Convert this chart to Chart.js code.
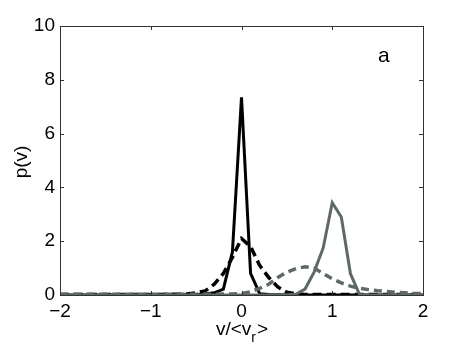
<!DOCTYPE html>
<html>
<head>
<meta charset="utf-8">
<script src="https://cdn.jsdelivr.net/npm/chart.js@4/dist/chart.umd.min.js"></script>
<style>
  html, body { margin: 0; padding: 0; background: #fff; }
  #chart { display: block; }
</style>
</head>
<body>
<canvas id="chart" width="467" height="352"></canvas>
<script>
// bin centres, v/<v_r>
const vBins = [
  -2.0, -1.9, -1.8, -1.7, -1.6, -1.5, -1.4, -1.3, -1.2, -1.1,
  -1.0, -0.9, -0.8, -0.7, -0.6, -0.5, -0.4, -0.3, -0.2, -0.1,
  0.0, 0.1, 0.2, 0.3, 0.4, 0.5, 0.6, 0.7, 0.8, 0.9,
  1.0, 1.1, 1.2, 1.3, 1.4, 1.5, 1.6, 1.7, 1.8, 1.9, 2.0,
];

const blackSolid = [
  0, 0, 0, 0, 0, 0, 0, 0, 0, 0,
  0, 0, 0, 0, 0.01, 0.02, 0.04, 0.08, 0.22, 1.6,
  7.35, 0.8, 0.05, 0.02, 0.01, 0, 0, 0, 0, 0,
  0, 0, 0, 0, 0, 0, 0, 0, 0, 0, 0,
];

const blackDashed = [
  0.02, 0.02, 0.02, 0.02, 0.02, 0.02, 0.02, 0.02, 0.02, 0.02,
  0.02, 0.02, 0.03, 0.03, 0.04, 0.08, 0.15, 0.4, 0.8, 1.4,
  2.1, 1.8, 1.1, 0.65, 0.3, 0.1, 0.04, 0.02, 0.02, 0.02,
  0.02, 0.02, 0.02, 0.02, 0.02, 0.02, 0.02, 0.02, 0.02, 0.02, 0.02,
];

const greySolid = [
  0, 0, 0, 0, 0, 0, 0, 0, 0, 0,
  0, 0, 0, 0, 0, 0, 0, 0, 0, 0,
  0, 0, 0, 0, 0, 0.01, 0.03, 0.22, 0.85, 1.75,
  3.43, 2.9, 0.8, 0.02, 0, 0, 0, 0, 0, 0, 0,
];

const greyDashed = [
  0.03, 0.03, 0.03, 0.03, 0.03, 0.03, 0.03, 0.03, 0.03, 0.03,
  0.03, 0.03, 0.03, 0.03, 0.03, 0.03, 0.03, 0.03, 0.04, 0.04,
  0.05, 0.12, 0.25, 0.4, 0.65, 0.85, 0.98, 1.05, 1.0, 0.8,
  0.6, 0.45, 0.33, 0.25, 0.2, 0.16, 0.13, 0.1, 0.08, 0.06, 0.05,
];

const xTicks = [-2, -1, 0, 1, 2];
const yTicks = [0, 2, 4, 6, 8, 10];

const BLACK = '#000000';
const GREY = '#5e6868';
const FONT = '"Liberation Sans", Arial, sans-serif';

const toPoints = (ys) => vBins.map((v, i) => ({ x: v, y: ys[i] }));

const line = (label, ys, color, dash, width, order) => ({
  label,
  data: toPoints(ys),
  borderColor: color,
  borderWidth: width,
  borderDash: dash,
  pointRadius: 0,
  tension: 0,
  fill: false,
  order,
});

// box, inward ticks and the axis titles (x title needs a subscript)
const framePlugin = {
  id: 'frame',
  afterDraw(chart) {
    const { ctx, chartArea: a, scales: { x, y } } = chart;
    ctx.save();
    ctx.strokeStyle = '#333';
    ctx.lineWidth = 1;
    ctx.strokeRect(a.left + 0.5, a.top + 0.5, a.right - a.left, a.bottom - a.top);
    ctx.beginPath();
    xTicks.forEach((t) => {
      const px = Math.round(x.getPixelForValue(t)) + 0.5;
      ctx.moveTo(px, a.bottom); ctx.lineTo(px, a.bottom - 4);
      ctx.moveTo(px, a.top); ctx.lineTo(px, a.top + 4);
    });
    yTicks.forEach((t) => {
      const py = Math.round(y.getPixelForValue(t)) + 0.5;
      ctx.moveTo(a.left, py); ctx.lineTo(a.left + 4, py);
      ctx.moveTo(a.right, py); ctx.lineTo(a.right - 4, py);
    });
    ctx.stroke();

    ctx.fillStyle = '#000';
    ctx.textBaseline = 'alphabetic';

    // panel letter
    ctx.font = '21px ' + FONT;
    ctx.textAlign = 'left';
    ctx.fillText('a', 378, 62);

    // y title
    ctx.font = '19px ' + FONT;
    ctx.save();
    ctx.translate(27, 162);
    ctx.rotate(-Math.PI / 2);
    ctx.textAlign = 'center';
    ctx.fillText('p(v)', 0, 0);
    ctx.restore();

    // x title: v/<v_r>
    const big = '19px ' + FONT;
    const small = '14px ' + FONT;
    ctx.font = big;
    const w1 = ctx.measureText('v/<v').width;
    const w3 = ctx.measureText('>').width;
    ctx.font = small;
    const w2 = ctx.measureText('r').width;
    const cx = (a.left + a.right) / 2;
    let sx = cx - (w1 + w2 + w3) / 2;
    const base = 335;
    ctx.textAlign = 'left';
    ctx.font = big;
    ctx.fillText('v/<v', sx, base);
    sx += w1;
    ctx.font = small;
    ctx.fillText('r', sx, base + 7);
    sx += w2 + 1;
    ctx.font = big;
    ctx.fillText('>', sx, base);
    ctx.restore();
  },
};

new Chart(document.getElementById('chart'), {
  type: 'line',
  data: {
    datasets: [
      line('grey dashed', greyDashed, GREY, [8, 5], 3.5, 1),
      line('grey solid', greySolid, GREY, [], 3, 2),
      line('black dashed', blackDashed, BLACK, [9, 5], 3.5, 3),
      line('black solid', blackSolid, BLACK, [], 3, 4),
    ],
  },
  options: {
    responsive: false,
    animation: false,
    layout: { padding: { top: 26, right: 44, left: 0, bottom: 0 } },
    plugins: { legend: { display: false }, tooltip: { enabled: false } },
    scales: {
      x: {
        type: 'linear',
        min: -2,
        max: 2,
        afterBuildTicks: (s) => { s.ticks = xTicks.map((v) => ({ value: v })); },
        afterFit: (s) => { s.height = 57; },
        ticks: {
          font: { family: FONT, size: 19 },
          color: '#000',
          padding: 5,
          maxRotation: 0,
          callback: (v) => (v < 0 ? '\u2212' + Math.abs(v) : String(v)),
        },
        grid: { display: false, drawTicks: false },
        border: { display: false },
      },
      y: {
        min: 0,
        max: 10,
        afterBuildTicks: (s) => { s.ticks = yTicks.map((v) => ({ value: v })); },
        afterFit: (s) => { s.width = 60; },
        ticks: {
          font: { family: FONT, size: 19 },
          color: '#000',
          padding: 5,
        },
        grid: { display: false, drawTicks: false },
        border: { display: false },
      },
    },
  },
  plugins: [framePlugin],
});
</script>
</body>
</html>
